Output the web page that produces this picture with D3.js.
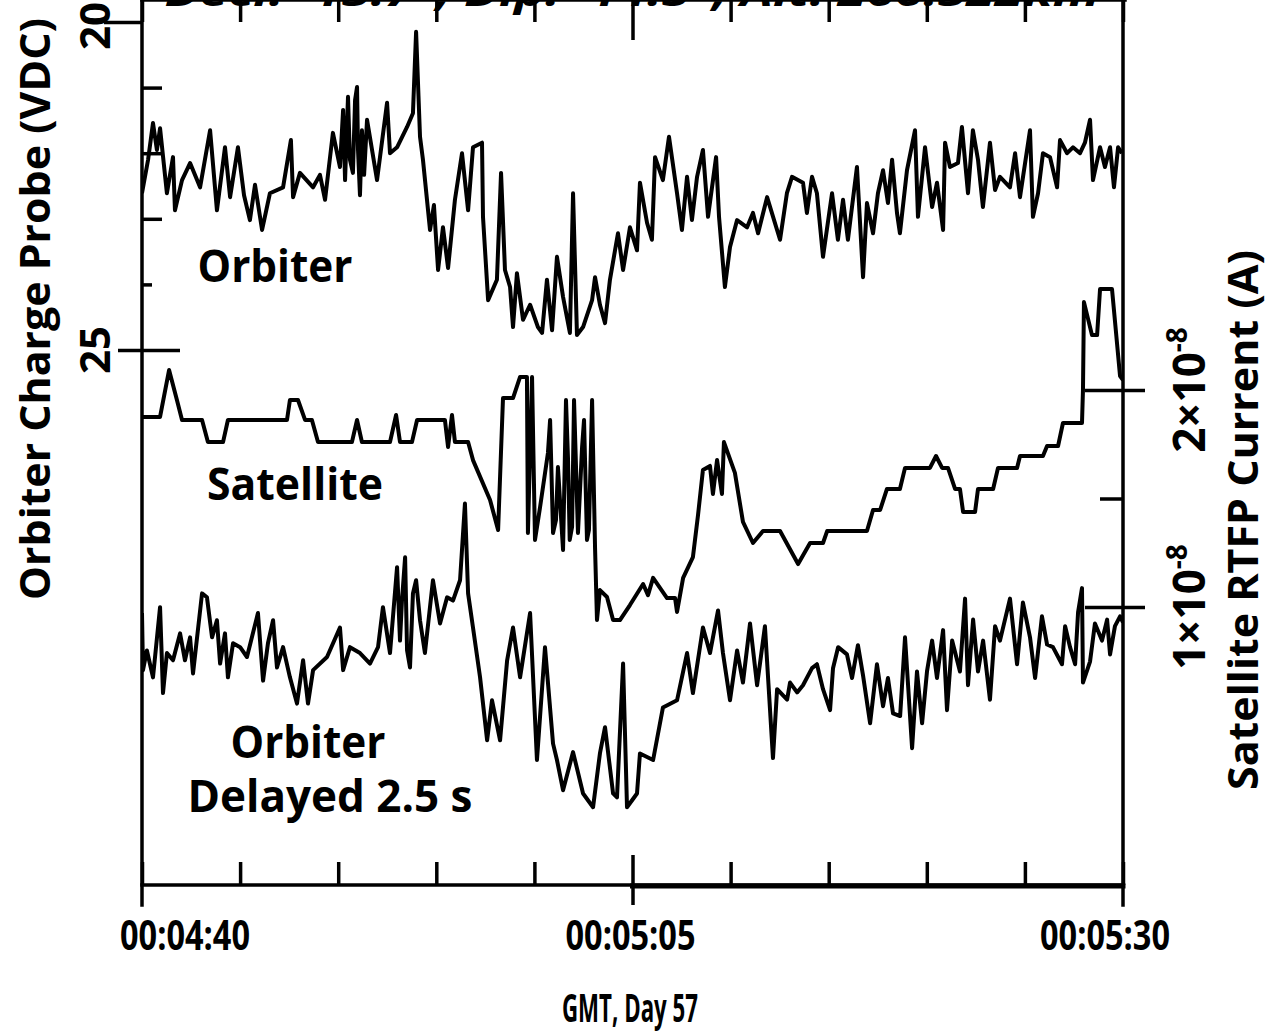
<!DOCTYPE html>
<html>
<head>
<meta charset="utf-8">
<script src="https://cdnjs.cloudflare.com/ajax/libs/d3/7.8.5/d3.min.js"></script>
<style>
  body { margin: 0; background: #fff; }
  text { font-family: "Open Sans", "Noto Sans", sans-serif; font-weight: bold; fill: #000; }
</style>
</head>
<body>
<svg id="chart"></svg>
<script>
// time is seconds after 00:04:00 GMT, day 57
var timeTicks = [40, 45, 50, 55, 60, 65, 70, 75, 80, 85, 90];
var timeLabels = [[40, "00:04:40"], [65, "00:05:05"], [90, "00:05:30"]];
var voltTicks = [20, 21, 22, 23, 24, 25];
var voltLabels = [20, 25];
var currentTicks = [1, 1.5, 2];   // x 1e-8 A
var currentLabels = [[2, "2×10", "-8"], [1, "1×10", "-8"]];

// orbiter charge probe, VDC
var orbiter = [
  [40.00,22.61],[40.31,22.10],[40.56,21.54],[40.76,21.95],[40.92,21.62],[41.27,22.61],[41.58,22.06],[41.68,22.87],
  [42.04,22.41],[42.45,22.15],[42.96,22.52],[43.47,21.65],[43.82,22.87],[44.23,21.91],[44.49,22.67],[44.89,21.91],
  [45.20,22.64],[45.50,23.02],[45.76,22.48],[46.12,23.17],[46.52,22.61],[47.19,22.52],[47.59,21.80],[47.70,22.67],
  [48.05,22.30],[48.72,22.52],[49.07,22.33],[49.33,22.71],[49.73,21.69],[50.09,22.21],[50.25,21.34],[50.35,22.41],
  [50.50,21.14],[50.60,22.10],[50.75,22.30],[50.86,21.19],[50.96,20.99],[51.01,21.95],[51.11,22.64],[51.21,21.65],
  [51.32,22.33],[51.47,21.49],[51.98,22.41],[52.49,21.23],[52.64,22.00],[53.00,21.91],[53.51,21.60],
  [53.81,21.39],[53.97,20.15],[54.17,21.75],[54.32,22.10],[54.68,23.17],[54.88,22.79],[55.09,23.78],[55.34,23.13],
  [55.60,23.75],[55.95,22.71],[56.31,22.00],[56.62,22.87],[56.87,21.91],[57.33,21.84],[57.38,22.97],[57.64,24.24],
  [58.09,23.93],[58.30,22.30],[58.50,23.78],[58.76,24.04],[58.91,24.65],[59.11,23.83],[59.42,24.54],[59.78,24.31],
  [60.18,24.65],[60.39,24.74],[60.64,23.93],[60.90,24.70],[61.15,23.58],[61.46,24.19],[61.81,24.74],[61.97,22.61],
  [62.17,24.77],[62.48,24.65],[62.94,24.24],[63.09,23.89],[63.34,24.31],[63.60,24.59],[63.85,23.93],[64.26,23.22],
  [64.52,23.78],[64.87,23.13],[65.23,23.48],[65.38,22.45],[65.74,23.06],[65.99,23.32],[66.15,22.06],[66.55,22.41],
  [66.86,21.75],[67.27,22.61],[67.52,23.17],[67.78,22.36],[68.03,23.02],[68.29,22.36],[68.59,21.95],[68.85,22.97],
  [69.26,22.06],[69.41,22.97],[69.71,24.04],[69.97,23.43],[70.33,23.02],[70.84,23.13],[71.14,22.91],[71.40,23.22],
  [71.86,22.67],[72.52,23.32],[72.87,22.61],[73.13,22.36],[73.69,22.45],[73.89,22.91],[74.15,22.36],[74.40,22.61],
  [74.71,23.58],[75.17,22.61],[75.47,23.32],[75.73,22.71],[75.98,23.32],[76.44,22.21],[76.75,23.89],[76.95,22.76],
  [77.26,23.22],[77.51,22.61],[77.77,22.26],[78.02,22.76],[78.23,22.10],[78.48,22.91],[78.63,23.22],[78.99,22.26],
  [79.40,21.65],[79.55,22.97],[79.91,21.91],[80.27,22.82],[80.52,22.45],[80.83,23.17],[80.93,21.84],[81.18,22.21],
  [81.59,22.15],[81.79,21.60],[82.10,22.61],[82.35,21.65],[82.61,22.10],[82.86,22.82],[83.22,21.84],[83.48,22.56],
  [83.73,22.36],[84.24,22.52],[84.50,22.00],[84.75,22.67],[85.26,21.65],[85.41,22.97],[85.67,22.61],[85.92,22.00],
  [86.28,22.06],[86.64,22.52],[86.79,21.80],[87.15,22.00],[87.45,21.91],[87.81,22.00],[88.06,21.84],[88.32,21.49],
  [88.47,22.41],[88.83,21.91],[89.08,22.21],[89.34,21.91],[89.54,22.52],[89.75,21.91],[89.95,22.00]
];

// satellite RTFP current, x 1e-8 A
var satellite = [
  [40.00,1.876],[40.92,1.876],[41.38,2.092],[41.78,1.954],[42.04,1.862],[43.06,1.862],[43.36,1.760],[44.13,1.760],
  [44.38,1.862],[47.39,1.862],[47.54,1.954],[47.95,1.954],[48.31,1.862],[48.66,1.862],[48.97,1.760],[50.70,1.760],
  [50.96,1.862],[51.21,1.760],[52.64,1.760],[52.95,1.885],[53.15,1.760],[53.76,1.760],[54.02,1.862],[55.44,1.862],
  [55.60,1.737],[55.80,1.885],[55.95,1.760],[56.62,1.760],[56.87,1.677],[57.74,1.493],[58.15,1.355],[58.40,1.963],
  [58.91,1.963],[59.27,2.060],[59.62,2.060],[59.67,1.341],[59.88,2.060],[60.03,1.309],[60.29,1.461],[60.69,1.710],
  [60.80,1.862],[60.95,1.341],[61.10,1.401],[61.20,1.645],[61.46,1.263],[61.61,1.954],[61.71,1.691],[61.80,1.309],
  [61.92,1.369],[62.02,1.954],[62.22,1.341],[62.43,1.737],[62.53,1.862],[62.68,1.309],[62.78,1.355],[62.94,1.954],
  [63.09,1.276],[63.19,0.940],[63.34,1.078],[63.70,1.046],[64.01,0.940],[64.36,0.940],
  [64.87,1.009],[65.54,1.106],[65.79,1.055],[66.05,1.134],[66.76,1.041],[67.17,1.041],[67.27,0.977],[67.58,1.134],
  [68.08,1.230],[68.34,1.424],[68.59,1.631],[68.95,1.650],[69.10,1.521],[69.31,1.677],[69.56,1.521],[69.66,1.760],
  [70.22,1.618],[70.63,1.392],[71.14,1.295],[71.65,1.350],[72.52,1.350],[73.44,1.198],[74.05,1.295],[74.71,1.295],
  [74.92,1.350],[76.95,1.350],[77.26,1.447],[77.62,1.447],[77.97,1.544],[78.63,1.544],[78.89,1.641],[80.16,1.641],
  [80.47,1.696],[80.78,1.641],[81.08,1.641],[81.44,1.544],[81.69,1.544],[81.85,1.438],[82.46,1.438],[82.61,1.544],
  [83.38,1.544],[83.63,1.641],[84.60,1.641],[84.75,1.696],[85.92,1.696],[86.13,1.742],[86.69,1.742],[86.94,1.848],
  [87.91,1.848],[87.96,2.000],[88.01,2.405],[88.42,2.253],[88.68,2.253],[88.83,2.465],[89.44,2.465],[89.85,2.064],
  [90.00,2.046]
];

// orbiter charge probe delayed 2.5 s, VDC
var delayed = [
  [40.00,21.81],[40.05,22.68],[40.25,22.38],[40.56,22.79],[40.92,21.72],[41.07,23.03],[41.27,22.42],[41.58,22.53],
  [41.94,22.12],[42.19,22.53],[42.45,22.18],[42.60,22.73],[43.06,21.51],[43.31,21.57],[43.57,22.18],[43.82,21.92],
  [43.98,22.58],[44.23,22.12],[44.38,22.79],[44.64,22.27],[45.00,22.33],[45.35,22.48],[45.91,21.81],[46.17,22.84],
  [46.42,22.27],[46.68,21.92],[46.88,22.64],[47.19,22.33],[47.54,22.79],[47.90,23.19],[48.21,22.53],[48.46,23.19],
  [48.72,22.68],[49.43,22.48],[50.09,22.03],[50.25,22.68],[50.60,22.33],[51.11,22.42],[51.62,22.58],[52.03,22.33],
  [52.28,21.72],[52.64,22.42],[53.00,21.11],[53.15,22.23],[53.25,21.62],[53.41,20.96],[53.51,22.38],[53.66,22.64],
  [53.81,21.51],[53.97,21.31],[54.17,21.92],
  [54.42,22.42],[54.83,21.31],[55.19,21.97],[55.55,21.57],[55.85,21.62],[56.21,21.31],[56.46,20.14],[56.62,21.51],
  [56.87,22.03],[57.23,22.79],[57.59,23.75],[57.84,23.14],[58.25,23.75],[58.61,22.53],[58.91,22.03],[59.27,22.79],
  [59.78,21.81],[60.13,24.05],[60.54,22.33],[60.95,23.80],[61.15,24.05],[61.46,24.51],[61.97,23.93],[62.48,24.56],
  [62.99,24.77],[63.34,23.95],[63.60,23.55],[64.01,24.56],[64.21,24.62],[64.52,22.58],[64.72,24.77],[65.23,24.56],
  [65.38,23.95],[66.05,24.05],[66.55,23.25],[67.27,23.14],[67.78,22.42],[68.08,23.03],[68.59,22.03],[68.95,22.42],
  [69.36,21.77],[69.61,22.42],[69.97,23.14],[70.33,22.38],[70.63,22.87],[70.99,21.97],[71.35,22.91],[71.75,22.01],
  [72.16,24.02],[72.37,22.97],[72.88,23.13],[73.03,22.87],[73.39,23.02],[73.69,22.91],[74.15,22.65],[74.40,22.59],
  [74.71,22.97],[75.07,23.29],[75.22,22.65],[75.48,22.33],[75.93,22.44],[76.19,22.80],[76.49,22.30],[76.75,22.76],
  [77.11,23.49],[77.46,22.59],[77.77,23.23],[78.02,22.80],[78.28,23.34],[78.64,23.38],[78.89,22.18],[79.25,23.87],
  [79.50,22.70],[79.76,23.49],[80.01,22.70],[80.27,22.23],[80.52,22.80],[80.83,22.07],[81.03,23.29],[81.29,22.23],
  [81.69,22.70],[81.95,21.59],[82.10,22.91],[82.36,21.91],[82.61,22.70],[82.87,22.23],[83.22,23.13],[83.48,22.01],
  [83.73,22.23],[84.24,21.59],[84.60,22.59],[84.90,21.65],[85.26,22.18],[85.52,22.80],[85.87,21.86],[86.13,22.29],
  [86.43,22.33],[86.89,22.59],[87.05,22.01],[87.30,22.33],[87.56,22.59],[87.71,21.80],[87.91,21.43],[87.96,22.87],
  [88.32,22.55],[88.57,21.97],[88.93,22.23],[89.19,21.91],[89.34,22.44],[89.59,22.01],[89.85,21.86],[90.00,21.95]
];
var delayedShift = 7.2;  // VDC, stacks the delayed trace below the satellite one

var width = 1270;
var height = 1035;
var plotBottom = 885;
var stroke = 3.5;
var traceStroke = 4;

var svg = d3.select("#chart")
  .attr("width", width)
  .attr("height", height);

var xScale = d3.scaleLinear().domain([40, 90]).range([142, 1123]);
var yVolt = d3.scaleLinear().domain([20, 25]).range([22, 350]);
var yCurr = d3.scaleLinear().domain([1, 2]).range([607, 390]);

var left = xScale.range()[0], right = xScale.range()[1], top = yVolt.range()[0];

// title, mostly cut off at the top edge
svg.append("text")
  .attr("x", 632).attr("y", 6)
  .attr("text-anchor", "middle")
  .attr("font-size", 40)
  .attr("font-style", "italic")
  .attr("textLength", 935).attr("lengthAdjust", "spacingAndGlyphs")
  .text("Decl. -13.7°, Dip: -14.5°, Alt: 266.322km");

svg.append("defs").append("clipPath").attr("id", "plotClip")
  .append("rect")
  .attr("x", left).attr("y", 0)
  .attr("width", right - left).attr("height", plotBottom);

// axes
var bottomAxis = svg.append("g")
  .attr("transform", "translate(0," + plotBottom + ")")
  .call(d3.axisBottom(xScale).tickValues(timeTicks).tickSize(-23).tickSizeOuter(0).tickFormat(""));
bottomAxis.selectAll(".tick line")
  .attr("y1", function(d) { return d == 65 ? 20 : 0; })
  .attr("y2", function(d) { return d == 65 ? -30 : -23; });

var topAxis = svg.append("g")
  .attr("transform", "translate(0," + top + ")")
  .call(d3.axisTop(xScale).tickValues(timeTicks).tickSize(-22).tickSizeOuter(0).tickFormat(""));
topAxis.selectAll(".tick line")
  .attr("y2", function(d) { return d == 65 ? 40 : 22; });

var leftAxis = svg.append("g")
  .attr("transform", "translate(" + left + ",0)")
  .call(d3.axisLeft(yVolt).tickValues(voltTicks).tickSize(-20).tickSizeOuter(0).tickFormat(""));
leftAxis.selectAll(".tick line")
  .attr("x1", function(d) { return d == 25 ? -24 : (d == 20 ? -38 : 0); })
  .attr("x2", function(d) { return d == 25 ? 38 : (d == 20 ? 0 : (d == 24 ? 10 : 20)); });

var rightAxis = svg.append("g")
  .attr("transform", "translate(" + right + ",0)")
  .call(d3.axisRight(yCurr).tickValues(currentTicks).tickSize(22).tickSizeOuter(0).tickFormat(""));
rightAxis.selectAll(".tick line")
  .attr("x1", function(d) { return d == 1.5 ? -23 : -38; })
  .attr("x2", function(d) { return d == 1.5 ? 0 : 22; });

svg.selectAll(".domain").remove();
svg.selectAll(".tick line").attr("stroke", "#000").attr("stroke-width", stroke);

// frame (bottom edge is doubled on the right half in the original)
var frame = [
  [left, top, right + 2, top, stroke],
  [left, plotBottom, right, plotBottom, stroke],
  [xScale(65), plotBottom + 1, right, plotBottom + 1, stroke + 1.5],
  [left, top, left, plotBottom + 20, stroke],
  [right, top, right, plotBottom + 20, stroke]
];
svg.selectAll(".frame").data(frame).enter().append("line")
  .attr("class", "frame")
  .attr("x1", function(d) { return d[0]; }).attr("y1", function(d) { return d[1]; })
  .attr("x2", function(d) { return d[2]; }).attr("y2", function(d) { return d[3]; })
  .attr("stroke", "#000").attr("stroke-width", function(d) { return d[4]; })
  .attr("stroke-linecap", "square");

// traces
var voltLine = d3.line()
  .x(function(d) { return xScale(d[0]); })
  .y(function(d) { return yVolt(d[1]); });
var delayedLine = d3.line()
  .x(function(d) { return xScale(d[0]); })
  .y(function(d) { return yVolt(d[1] + delayedShift); });
var currLine = d3.line()
  .x(function(d) { return xScale(d[0]); })
  .y(function(d) { return yCurr(d[1]); });

var traces = svg.append("g").attr("clip-path", "url(#plotClip)");
[[orbiter, voltLine], [satellite, currLine], [delayed, delayedLine]].forEach(function(s) {
  traces.append("path")
    .datum(s[0])
    .attr("d", s[1])
    .attr("fill", "none")
    .attr("stroke", "#000")
    .attr("stroke-width", traceStroke)
    .attr("stroke-linejoin", "round");
});

// time labels
var labelShift = { 40: 43, 65: -2, 90: -18 };
svg.selectAll(".tlabel").data(timeLabels).enter().append("text")
  .attr("class", "tlabel")
  .attr("x", function(d) { return xScale(d[0]) + labelShift[d[0]]; })
  .attr("y", 950)
  .attr("text-anchor", "middle")
  .attr("font-size", 42)
  .attr("textLength", 130).attr("lengthAdjust", "spacingAndGlyphs")
  .text(function(d) { return d[1]; });

svg.append("text")
  .attr("x", 630).attr("y", 1022)
  .attr("text-anchor", "middle")
  .attr("font-size", 40)
  .attr("textLength", 136).attr("lengthAdjust", "spacingAndGlyphs")
  .text("GMT, Day 57");

// left value labels
svg.selectAll(".vlabel").data(voltLabels).enter().append("text")
  .attr("class", "vlabel")
  .attr("transform", function(d) { return "translate(110," + (yVolt(d) + (d == 20 ? 4 : 0)) + ") rotate(-90)"; })
  .attr("text-anchor", "middle")
  .attr("font-size", 42)
  .text(function(d) { return d; });

svg.append("text")
  .attr("transform", "translate(50,309) rotate(-90)")
  .attr("text-anchor", "middle")
  .attr("font-size", 42)
  .attr("textLength", 582).attr("lengthAdjust", "spacingAndGlyphs")
  .text("Orbiter Charge Probe (VDC)");

// right current labels
var cl = svg.selectAll(".clabel").data(currentLabels).enter().append("text")
  .attr("class", "clabel")
  .attr("transform", function(d) { return "translate(1205," + yCurr(d[0]) + ") rotate(-90)"; })
  .attr("text-anchor", "middle")
  .attr("font-size", 44);
cl.append("tspan").text(function(d) { return d[1]; });
cl.append("tspan").attr("font-size", 28).attr("dy", -18).text(function(d) { return d[2]; });

svg.append("text")
  .attr("transform", "translate(1258,520) rotate(-90)")
  .attr("text-anchor", "middle")
  .attr("font-size", 42)
  .attr("textLength", 540).attr("lengthAdjust", "spacingAndGlyphs")
  .text("Satellite RTFP Current (A)");

// trace names
var names = [
  ["Orbiter", 275, 282, 155],
  ["Satellite", 295, 500, 176],
  ["Orbiter", 308, 758, 155],
  ["Delayed 2.5 s", 330, 812, 285]
];
svg.selectAll(".name").data(names).enter().append("text")
  .attr("class", "name")
  .attr("x", function(d) { return d[1]; })
  .attr("y", function(d) { return d[2]; })
  .attr("text-anchor", "middle")
  .attr("font-size", 44)
  .attr("textLength", function(d) { return d[3]; }).attr("lengthAdjust", "spacingAndGlyphs")
  .text(function(d) { return d[0]; });
</script>
</body>
</html>
